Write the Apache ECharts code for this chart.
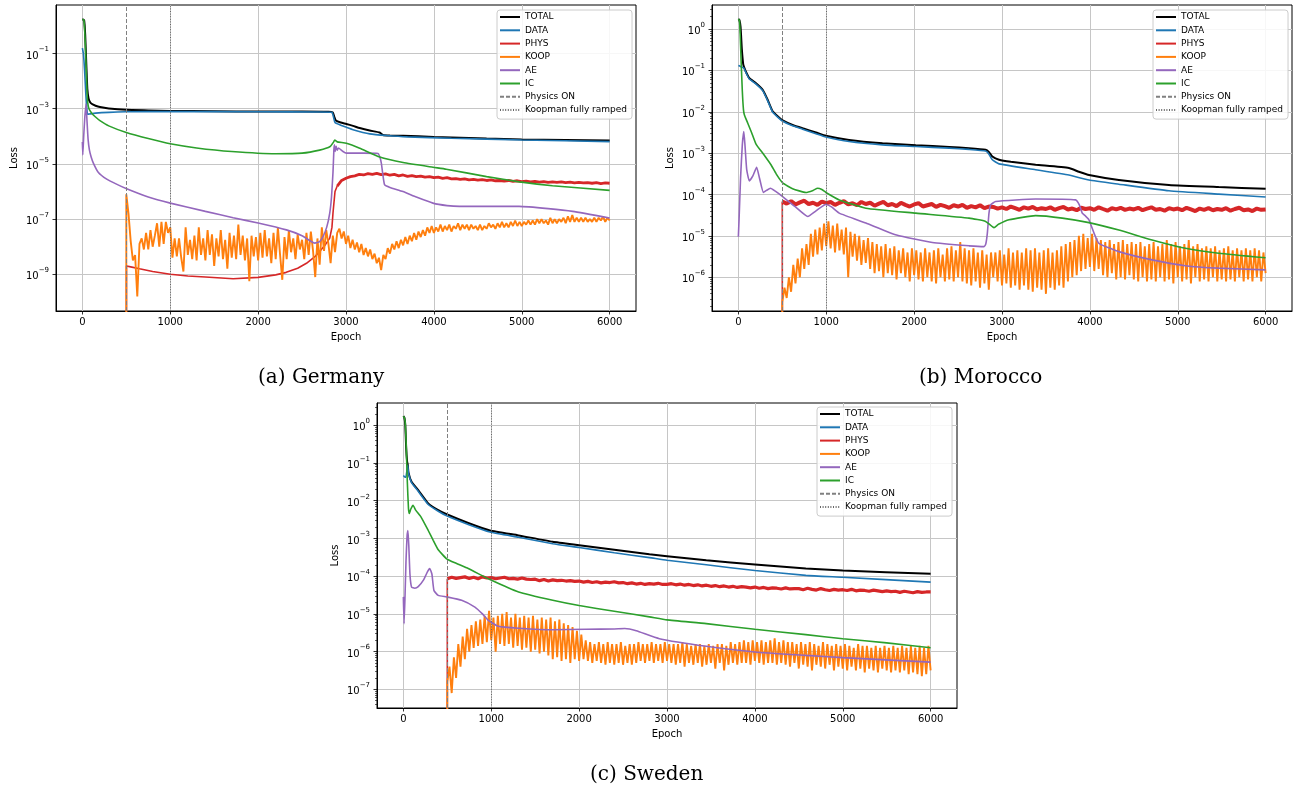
<!DOCTYPE html>
<html><head><meta charset="utf-8">
<script src="https://cdn.jsdelivr.net/npm/echarts@6/dist/echarts.min.js"></script>
<style>html,body{margin:0;padding:0;background:#fff}#c{width:1303px;height:792px}</style>
</head><body><div id="c"></div>
<script>
// ---------------- DATA (all loss values are log10(loss)) ----------------
const EPOCH_TICKS = [0, 1000, 2000, 3000, 4000, 5000, 6000];
const SERIES_NAMES = ['TOTAL', 'DATA', 'PHYS', 'KOOP', 'AE', 'IC'];
const PHASE_NAMES = ['Physics ON', 'Koopman fully ramped'];
const PHASE_EPOCHS = [500, 1000];
const PANEL_TITLES = ['(a) Germany', '(b) Morocco', '(c) Sweden'];
const deDecades = [-9, -7, -5, -3, -1];
const maDecades = [-6, -5, -4, -3, -2, -1, 0];
const seDecades = [-7, -6, -5, -4, -3, -2, -1, 0];

// ---- (a) Germany : [epoch, log10 loss]
const deTotal = [[0,0.25],[20,0.21],[32,-0.3],[45,-1.4],[57,-2.3],[70,-2.62],[85,-2.75],[105,-2.82],[150,-2.89],[200,-2.94],[300,-2.99],[500,-3.04],[750,-3.06],[1000,-3.08],[1500,-3.09],[2000,-3.1],[2500,-3.1],[2800,-3.11],[2850,-3.14],[2868,-3.3],[2885,-3.43],[2940,-3.5],[3004,-3.55],[3080,-3.62],[3156,-3.7],[3270,-3.79],[3383,-3.86],[3420,-3.95],[3500,-3.97],[3650,-3.98],[4000,-4.02],[4600,-4.08],[5000,-4.11],[5500,-4.13],[6000,-4.15]];
const deData = [[0,-0.8],[12,-1.0],[25,-1.6],[40,-2.5],[52,-3.05],[60,-3.2],[80,-3.19],[150,-3.16],[300,-3.13],[500,-3.11],[1000,-3.1],[2000,-3.11],[2700,-3.12],[2840,-3.13],[2858,-3.3],[2875,-3.5],[2928,-3.58],[3004,-3.67],[3080,-3.76],[3270,-3.91],[3460,-3.97],[3700,-4.02],[4200,-4.07],[5000,-4.13],[6000,-4.19]];
const dePhysHead = [[500,-20],[502,-8.7],[550,-8.73],[650,-8.8],[800,-8.9],[1000,-9.0],[1200,-9.06],[1400,-9.1],[1716,-9.16],[2000,-9.11],[2200,-9.02],[2320,-8.93],[2450,-8.78],[2550,-8.6],[2650,-8.35],[2700,-8.17],[2760,-7.95],[2815,-7.69],[2840,-7.3],[2852,-6.78],[2875,-6.0]];
const dePhysTail = [ // every 50 epochs from 2900
-5.8,-5.6,-5.52,-5.46,-5.43,-5.38,-5.4,-5.35,-5.38,-5.34,
-5.39,-5.36,-5.41,-5.38,-5.43,-5.4,-5.45,-5.42,-5.46,-5.44,
-5.48,-5.46,-5.5,-5.48,-5.52,-5.5,-5.54,-5.53,-5.56,-5.54,
-5.58,-5.56,-5.59,-5.57,-5.6,-5.58,-5.61,-5.6,-5.62,-5.6,
-5.63,-5.61,-5.64,-5.62,-5.65,-5.63,-5.66,-5.64,-5.67,-5.65,
-5.67,-5.65,-5.68,-5.66,-5.69,-5.67,-5.69,-5.68,-5.7,-5.68,
-5.71,-5.69,-5.7];
const deKoopHead = [[500,-20]];
const deKoop = [ // every 25 epochs from 500
-6.1,-6.8,-7.8,-8.5,-8.3,-9.8,-7.9,-7.7,-8.1,-7.5,-8.1,-7.4,-8.0,-7.6,-7.15,-8.0,-7.1,
-7.9,-7.1,-7.5,-7.3,-8.4,-7.7,-8.35,-7.7,-8.4,-8.9,-7.3,-8.3,-7.75,-8.45,-7.6,-8.5,
-7.3,-8.3,-7.7,-8.5,-7.4,-8.3,-7.55,-8.7,-7.7,-8.35,-7.4,-8.45,-7.75,-8.8,-7.5,-8.4,
-7.6,-8.45,-7.2,-8.3,-7.6,-8.5,-7.7,-9.25,-7.6,-8.35,-7.65,-8.5,-7.5,-8.4,-7.4,-8.35,
-7.7,-8.6,-7.5,-8.45,-7.3,-8.3,-9.2,-7.65,-8.45,-7.4,-8.2,-7.7,-8.45,-7.55,-8.1,-7.75,
-8.45,-7.5,-8.3,-7.45,-8.15,-9.1,-7.7,-8.65,-7.3,-8.15,-7.4,-7.9,-8.6,-7.6,-8.2,-7.5,
-7.35,-7.7,-7.45,-7.9,-7.6,-8.05,-7.75,-8.1,-7.85,-8.2,-7.9,-8.3,-8.05,-8.35,-8.1,-8.45,
-8.25,-8.6,-8.4,-8.85,-8.3,-8.45,-8.05,-8.25,-7.9,-8.1,-7.8,-8.05,-7.75,-7.95,-7.65,-7.9,
-7.6,-7.8,-7.5,-7.75,-7.45,-7.65,-7.4,-7.6,-7.3,-7.5,-7.25,-7.5,-7.3,-7.45,-7.2,-7.45,
-7.25,-7.4,-7.2,-7.45,-7.25,-7.35,-7.15,-7.4,-7.2,-7.35,-7.2,-7.4,-7.2,-7.35,-7.25,-7.4,
-7.2,-7.4,-7.25,-7.35,-7.15,-7.3,-7.2,-7.35,-7.15,-7.3,-7.1,-7.3,-7.15,-7.3,-7.1,-7.25,
-7.05,-7.25,-7.1,-7.25,-7.1,-7.2,-7.05,-7.2,-7.05,-7.2,-7.0,-7.15,-7.0,-7.15,-7.05,-7.2,
-6.95,-7.15,-7.0,-7.15,-7.0,-7.1,-6.95,-7.15,-6.9,-7.1,-6.85,-7.1,-6.95,-7.1,-6.95,-7.1,
-6.95,-7.1,-7.0,-7.1,-6.95,-7.1,-6.95,-7.05,-6.9,-7.1,-6.95,-7.05];
const deAe = [[0,-4.2],[5,-4.67],[15,-4.0],[28,-3.3],[42,-2.82],[52,-3.4],[65,-4.1],[80,-4.49],[100,-4.75],[125,-4.97],[180,-5.3],[277,-5.55],[400,-5.75],[504,-5.9],[750,-6.2],[1000,-6.42],[1400,-6.72],[1716,-6.95],[2000,-7.14],[2322,-7.39],[2500,-7.6],[2645,-7.87],[2700,-7.82],[2739,-7.63],[2780,-7.3],[2815,-6.78],[2835,-6.2],[2852,-5.3],[2862,-4.5],[2868,-4.31],[2878,-4.55],[2888,-4.36],[2900,-4.5],[2915,-4.42],[2966,-4.55],[3004,-4.61],[3200,-4.61],[3364,-4.62],[3385,-4.75],[3402,-4.97],[3420,-5.4],[3440,-5.76],[3500,-5.85],[3648,-6.0],[3800,-6.2],[3989,-6.42],[4150,-6.51],[4292,-6.54],[4970,-6.54],[5300,-6.62],[5580,-6.72],[6000,-6.96]];
const deIc = [[0,0.25],[18,0.2],[30,-0.4],[42,-1.4],[52,-2.3],[60,-2.75],[75,-3.0],[107,-3.16],[150,-3.3],[200,-3.43],[300,-3.62],[500,-3.86],[750,-4.08],[1000,-4.27],[1300,-4.42],[1700,-4.55],[2200,-4.63],[2500,-4.61],[2700,-4.5],[2820,-4.37],[2860,-4.2],[2872,-4.13],[2900,-4.2],[3004,-4.25],[3156,-4.43],[3383,-4.75],[3650,-4.95],[3990,-5.12],[4140,-5.19],[4600,-5.46],[4975,-5.65],[5350,-5.79],[6000,-5.96]];

// ---- (b) Morocco
const maTotal = [[0,0.24],[12,0.22],[25,0.05],[40,-0.5],[55,-0.85],[65,-0.92],[90,-1.05],[125,-1.19],[201,-1.31],[277,-1.47],[333,-1.71],[390,-1.99],[447,-2.11],[504,-2.21],[617,-2.32],[731,-2.4],[883,-2.5],[996,-2.58],[1260,-2.68],[1640,-2.76],[2020,-2.81],[2400,-2.85],[2625,-2.88],[2814,-2.92],[2850,-2.97],[2890,-3.08],[2966,-3.16],[3100,-3.21],[3383,-3.28],[3761,-3.36],[3875,-3.45],[3990,-3.53],[4330,-3.65],[4900,-3.77],[5466,-3.82],[6000,-3.86]];
const maData = [[0,-0.88],[20,-0.9],[40,-0.92],[61,-0.94],[90,-1.07],[125,-1.21],[201,-1.33],[277,-1.49],[333,-1.73],[390,-2.01],[447,-2.13],[504,-2.23],[617,-2.34],[731,-2.42],[883,-2.53],[996,-2.61],[1260,-2.72],[1640,-2.8],[2020,-2.84],[2400,-2.88],[2625,-2.91],[2814,-2.95],[2850,-3.02],[2890,-3.16],[2966,-3.26],[3383,-3.4],[3761,-3.53],[3990,-3.65],[4330,-3.75],[4900,-3.91],[5466,-3.99],[6000,-4.06]];
const maPhysHead = [[500,-20]];
const maPhys = [ // every 50 epochs from 500
-4.17,-4.22,-4.16,-4.24,-4.19,-4.15,-4.23,-4.2,-4.25,-4.17,
-4.21,-4.18,-4.25,-4.2,-4.16,-4.24,-4.21,-4.26,-4.18,-4.23,
-4.2,-4.27,-4.22,-4.18,-4.26,-4.23,-4.28,-4.2,-4.25,-4.29,
-4.24,-4.21,-4.29,-4.26,-4.23,-4.3,-4.25,-4.28,-4.32,-4.26,
-4.29,-4.25,-4.32,-4.28,-4.31,-4.26,-4.33,-4.29,-4.3,-4.34,
-4.31,-4.35,-4.29,-4.33,-4.37,-4.31,-4.34,-4.3,-4.36,-4.33,
-4.35,-4.31,-4.37,-4.33,-4.3,-4.36,-4.34,-4.38,-4.32,-4.35,
-4.33,-4.37,-4.31,-4.35,-4.39,-4.33,-4.36,-4.32,-4.37,-4.34,
-4.36,-4.32,-4.38,-4.34,-4.31,-4.37,-4.35,-4.39,-4.33,-4.36,
-4.34,-4.38,-4.32,-4.36,-4.4,-4.34,-4.37,-4.33,-4.38,-4.35,
-4.37,-4.33,-4.39,-4.35,-4.32,-4.38,-4.36,-4.4,-4.34,-4.37,
-4.36];
const maKoopHead = [[500,-20]];
const maKoop = [ // every 25 epochs from 500
-6.6,-6.25,-6.5,-6.0,-6.35,-5.7,-6.15,-5.55,-6.0,-5.3,-5.8,-5.2,-5.7,-4.95,-5.5,-4.85,-5.45,
-4.8,-5.35,-4.7,-5.25,-4.65,-5.3,-4.75,-5.4,-4.7,-5.35,-4.85,-5.45,-4.8,-6.0,-4.9,-5.5,
-4.95,-5.6,-5.0,-5.7,-5.1,-5.65,-5.05,-5.8,-5.15,-5.9,-5.2,-5.85,-5.25,-6.0,-5.2,-5.9,
-5.3,-5.95,-5.25,-6.05,-5.35,-5.9,-5.3,-6.0,-5.4,-6.1,-5.3,-5.95,-5.35,-6.05,-5.4,-6.1,
-5.3,-6.0,-5.4,-6.1,-5.35,-6.15,-5.3,-6.0,-5.45,-6.1,-5.3,-6.05,-5.25,-6.1,-5.35,-6.0,
-5.15,-6.1,-5.3,-6.15,-5.35,-6.2,-5.3,-6.1,-5.4,-6.25,-5.35,-6.15,-5.45,-6.3,-5.4,-6.0,
-5.4,-6.1,-5.35,-6.2,-5.45,-6.15,-5.3,-6.25,-5.4,-6.2,-5.35,-6.3,-5.4,-6.2,-5.3,-6.3,
-5.35,-6.35,-5.3,-6.25,-5.4,-6.3,-5.35,-6.4,-5.3,-6.25,-5.4,-6.3,-5.35,-6.2,-5.25,-6.25,
-5.2,-6.1,-5.15,-6.0,-5.1,-5.95,-5.0,-5.85,-4.95,-5.8,-5.05,-5.75,-4.95,-5.85,-5.05,-5.8,
-5.1,-5.95,-5.15,-6.0,-5.1,-5.9,-5.2,-6.05,-5.15,-6.0,-5.1,-6.05,-5.2,-5.95,-5.15,-6.05,
-5.2,-6.1,-5.15,-6.0,-5.25,-6.1,-5.2,-6.05,-5.15,-6.1,-5.25,-6.0,-5.2,-6.1,-5.1,-6.05,
-5.2,-6.15,-5.15,-6.0,-5.25,-6.1,-5.2,-6.05,-5.1,-6.15,-5.25,-6.0,-5.2,-6.1,-5.3,-6.05,
-5.25,-6.1,-5.3,-6.0,-5.25,-6.1,-5.35,-6.05,-5.3,-6.1,-5.25,-6.05,-5.35,-6.1,-5.3,-6.0,
-5.35,-6.1,-5.3,-6.05,-5.35,-6.1,-5.3,-6.0,-5.35,-6.1,-5.4,-5.9];
const maAe = [[0,-5.02],[8,-4.6],[25,-3.6],[45,-2.8],[62,-2.48],[75,-2.8],[95,-3.4],[125,-3.67],[165,-3.55],[208,-3.34],[240,-3.6],[285,-3.95],[320,-3.9],[365,-3.85],[420,-3.92],[504,-4.05],[650,-4.3],[790,-4.53],[880,-4.4],[996,-4.24],[1060,-4.3],[1148,-4.45],[1451,-4.69],[1800,-4.98],[2208,-5.16],[2625,-5.24],[2795,-5.26],[2815,-5.2],[2833,-4.94],[2852,-4.45],[2871,-4.25],[2928,-4.17],[3383,-4.11],[3837,-4.13],[3880,-4.25],[3913,-4.45],[3950,-4.52],[3989,-4.61],[4050,-4.95],[4102,-5.18],[4330,-5.38],[4708,-5.58],[5087,-5.72],[5466,-5.78],[6000,-5.82]];
const maIc = [[0,0.24],[12,0.2],[20,-0.09],[30,-0.7],[45,-1.5],[58,-1.95],[68,-2.07],[106,-2.27],[150,-2.5],[201,-2.78],[295,-3.05],[371,-3.28],[430,-3.5],[504,-3.72],[617,-3.86],[769,-3.95],[850,-3.9],[902,-3.85],[950,-3.88],[996,-3.95],[1148,-4.13],[1451,-4.33],[2019,-4.45],[2625,-4.57],[2814,-4.65],[2909,-4.8],[2960,-4.72],[3080,-4.61],[3383,-4.51],[3686,-4.57],[3989,-4.68],[4330,-4.86],[4708,-5.1],[5087,-5.3],[5466,-5.42],[6000,-5.53]];

// ---- (c) Sweden
const seTotal = [[0,0.24],[12,0.2],[22,0.0],[32,-0.6],[42,-0.95],[50,-1.05],[58,-1.25],[93,-1.5],[169,-1.72],[283,-2.07],[397,-2.25],[492,-2.36],[738,-2.59],[985,-2.79],[1311,-2.92],[1700,-3.09],[2000,-3.18],[2400,-3.3],[2800,-3.42],[3000,-3.47],[3447,-3.58],[4000,-3.69],[4580,-3.8],[5000,-3.85],[6000,-3.94]];
const seData = [[0,-1.33],[15,-1.37],[28,-1.38],[38,-1.25],[50,-1.06],[58,-1.27],[93,-1.52],[169,-1.75],[283,-2.1],[397,-2.28],[492,-2.4],[738,-2.63],[985,-2.83],[1311,-2.97],[1700,-3.14],[2000,-3.24],[2400,-3.38],[2800,-3.51],[3000,-3.58],[3447,-3.7],[4000,-3.85],[4580,-3.98],[5000,-4.03],[6000,-4.16]];
const sePhysHead = [[500,-20]];
const sePhys = [ // every 50 epochs from 500
-4.07,-4.03,-4.06,-4.04,-4.02,-4.06,-4.03,-4.07,-4.02,-4.05,
-4.04,-4.07,-4.05,-4.03,-4.07,-4.06,-4.08,-4.05,-4.08,-4.09,
-4.08,-4.12,-4.09,-4.13,-4.1,-4.12,-4.11,-4.13,-4.12,-4.14,
-4.13,-4.16,-4.14,-4.17,-4.15,-4.18,-4.16,-4.17,-4.15,-4.18,
-4.17,-4.2,-4.18,-4.21,-4.19,-4.22,-4.2,-4.21,-4.19,-4.22,
-4.22,-4.2,-4.23,-4.21,-4.24,-4.22,-4.25,-4.23,-4.26,-4.24,
-4.27,-4.25,-4.28,-4.26,-4.29,-4.27,-4.3,-4.28,-4.29,-4.31,
-4.29,-4.32,-4.3,-4.33,-4.31,-4.32,-4.34,-4.31,-4.34,-4.33,
-4.33,-4.36,-4.32,-4.35,-4.37,-4.33,-4.36,-4.38,-4.35,-4.37,
-4.36,-4.38,-4.35,-4.39,-4.37,-4.38,-4.4,-4.37,-4.39,-4.41,
-4.39,-4.41,-4.4,-4.43,-4.4,-4.42,-4.44,-4.41,-4.43,-4.42,
-4.42];
const seKoopHead = [[500,-20]];
const seKoop = [ // every 25 epochs from 500
-6.8,-6.4,-7.1,-6.15,-6.7,-5.8,-6.4,-5.6,-6.2,-5.4,-6.0,-5.3,-5.9,-5.2,-5.85,-5.15,-5.8,
-5.05,-5.75,-4.92,-5.7,-5.1,-6.0,-5.05,-5.8,-5.0,-5.85,-4.95,-5.8,-5.1,-5.9,-5.0,-5.85,
-5.1,-5.95,-5.05,-5.9,-5.1,-6.0,-5.05,-5.95,-5.15,-6.05,-5.1,-6.0,-5.15,-6.1,-5.1,-6.2,
-5.2,-6.15,-5.15,-6.25,-5.25,-6.2,-5.3,-6.3,-5.35,-6.2,-5.45,-6.25,-5.55,-6.2,-5.7,-6.25,
-5.75,-6.3,-5.8,-6.25,-5.75,-6.3,-5.8,-6.35,-5.75,-6.3,-5.8,-6.35,-5.8,-6.3,-5.75,-6.35,
-5.85,-6.3,-5.8,-6.35,-5.8,-6.3,-5.75,-6.25,-5.8,-6.3,-5.8,-6.25,-5.75,-6.3,-5.8,-6.25,
-5.8,-6.3,-5.75,-6.25,-5.8,-6.3,-5.8,-6.35,-5.8,-6.3,-5.75,-6.4,-5.8,-6.3,-5.85,-6.35,
-5.8,-6.3,-5.8,-6.4,-5.85,-6.35,-5.8,-6.3,-5.85,-6.45,-5.8,-6.3,-5.8,-6.5,-5.85,-6.35,
-5.75,-6.3,-5.8,-6.35,-5.75,-6.3,-5.7,-6.3,-5.75,-6.35,-5.7,-6.25,-5.75,-6.3,-5.7,-6.35,
-5.75,-6.3,-5.7,-6.3,-5.65,-6.35,-5.75,-6.3,-5.7,-6.35,-5.75,-6.4,-5.75,-6.3,-5.8,-6.45,
-5.75,-6.35,-5.8,-6.4,-5.75,-6.5,-5.8,-6.35,-5.85,-6.4,-5.75,-6.45,-5.8,-6.35,-5.85,-6.5,
-5.8,-6.4,-5.85,-6.45,-5.8,-6.5,-5.85,-6.4,-5.9,-6.5,-5.8,-6.45,-5.85,-6.55,-5.85,-6.45,
-5.9,-6.5,-5.85,-6.55,-5.9,-6.45,-5.85,-6.5,-5.9,-6.55,-5.85,-6.5,-5.9,-6.55,-5.85,-6.5,
-5.9,-6.6,-5.85,-6.55,-5.9,-6.6,-5.85,-6.65,-5.9,-6.6,-5.85,-6.5];
const seAe = [[0,-4.55],[8,-5.26],[18,-4.6],[30,-3.6],[42,-2.95],[52,-2.79],[62,-3.2],[75,-3.95],[93,-4.29],[130,-4.32],[169,-4.28],[230,-4.1],[275,-3.88],[300,-3.8],[325,-3.95],[348,-4.38],[397,-4.51],[492,-4.55],[663,-4.64],[814,-4.82],[900,-5.0],[966,-5.17],[1080,-5.33],[1311,-5.38],[1700,-5.42],[2080,-5.41],[2400,-5.4],[2520,-5.39],[2650,-5.45],[2913,-5.66],[3447,-5.86],[4000,-6.01],[4580,-6.1],[5000,-6.16],[6000,-6.28]];
const seIc = [[0,0.24],[10,0.2],[20,0.1],[32,-0.5],[45,-1.5],[58,-2.2],[68,-2.34],[85,-2.22],[110,-2.12],[140,-2.25],[200,-2.43],[283,-2.79],[340,-3.05],[397,-3.3],[492,-3.54],[600,-3.66],[738,-3.8],[985,-4.09],[1311,-4.42],[1700,-4.64],[2000,-4.78],[2400,-4.93],[2800,-5.08],[3000,-5.16],[3447,-5.26],[4000,-5.41],[4580,-5.55],[5000,-5.66],[5500,-5.77],[6000,-5.9]];

// ---------------- BUILD ----------------
function pts(head, vals, start, step) {
  const out = head ? head.slice() : [];
  if (vals) vals.forEach((v, i) => out.push([start + i * step, v]));
  return out;
}
const COLORS = {TOTAL:'#000000', DATA:'#1f77b4', PHYS:'#d62728', KOOP:'#ff7f0e', AE:'#9467bd', IC:'#2ca02c'};
const WIDTHS = {TOTAL:2, DATA:1.6, PHYS:1.6, KOOP:1.9, AE:1.6, IC:1.6};
const SMOOTH = {TOTAL:true, DATA:true, PHYS:false, KOOP:false, AE:true, IC:true};

const panels = [
  {grid:{left:56, top:5, width:580, height:306}, yMin:-10.33, yMax:0.76, decades:deDecades, minor:false, physWidth:2.8,
   legend:{left:497, top:10}, title:{left:258, top:368},
   physHead:dePhysHead, physTail:pts(null, dePhysTail, 2900, 50),
   data:{TOTAL:pts(deTotal), DATA:pts(deData), KOOP:pts(deKoopHead, deKoop, 500, 25), AE:pts(deAe), IC:pts(deIc)}},
  {grid:{left:712, top:5, width:580, height:306}, yMin:-6.815, yMax:0.58, decades:maDecades, minor:true, physWidth:4,
   legend:{left:1153, top:10}, title:{left:919, top:368},
   physHead:maPhysHead, physTail:pts(null, maPhys, 500, 50),
   data:{TOTAL:pts(maTotal), DATA:pts(maData), KOOP:pts(maKoopHead, maKoop, 500, 25), AE:pts(maAe), IC:pts(maIc)}},
  {grid:{left:377, top:403, width:580, height:305}, yMin:-7.496, yMax:0.59, decades:seDecades, minor:true, physWidth:3.2,
   legend:{left:817, top:407}, title:{left:590, top:765},
   physHead:sePhysHead, physTail:pts(null, sePhys, 500, 50),
   data:{TOTAL:pts(seTotal), DATA:pts(seData), KOOP:pts(seKoopHead, seKoop, 500, 25), AE:pts(seAe), IC:pts(seIc)}}
];

const FONT = 'DejaVu Sans';
const grids = [], xAxes = [], yAxes = [], series = [], legends = [], titles = [];
const minorAxes = [];
function lineSeries(name, i, data, width, smooth) {
  return {type:'line', name, xAxisIndex:i, yAxisIndex:i, data, showSymbol:false, symbol:'none',
    smooth: smooth ? 0.15 : false, clip:true, animation:false, silent:true,
    lineStyle:{color:COLORS[name], width}, itemStyle:{color:COLORS[name]}};
}
panels.forEach((p, i) => {
  grids.push(Object.assign({show:true, borderColor:'#000', borderWidth:1, backgroundColor:'#fff', containLabel:false}, p.grid));
  xAxes.push({type:'value', gridIndex:i, min:-300, max:6300, name:'Epoch', nameLocation:'middle', nameGap:21,
    nameTextStyle:{fontSize:10, color:'#000', fontFamily:FONT},
    axisLine:{show:true, onZero:false, lineStyle:{color:'#000', width:1}},
    axisTick:{show:true, length:3.5, lineStyle:{color:'#000', width:0.8}, customValues:EPOCH_TICKS},
    axisLabel:{show:true, margin:6, fontSize:10, color:'#000', fontFamily:FONT, customValues:EPOCH_TICKS,
      formatter: v => String(Math.round(v))},
    splitLine:{show:true, lineStyle:{color:'#c6c6c6', width:1}}});
  yAxes.push({type:'value', gridIndex:i, min:p.yMin, max:p.yMax, position:'left', name:'Loss', nameLocation:'middle', nameGap:37,
    nameTextStyle:{fontSize:10, color:'#000', fontFamily:FONT},
    axisLine:{show:true, onZero:false, lineStyle:{color:'#000', width:1}},
    axisTick:{show:true, length:3.5, lineStyle:{color:'#000', width:0.8}, customValues:p.decades},
    axisLabel:{show:true, margin:7, customValues:p.decades,
      formatter: v => { const n = Math.round(v); return '{b|10}{s|' + (n < 0 ? '\u2212' : '') + Math.abs(n) + '}'; },
      rich:{b:{fontSize:10, fontFamily:FONT, color:'#000', lineHeight:15, verticalAlign:'bottom'},
            s:{fontSize:7, fontFamily:FONT, color:'#000', lineHeight:15, verticalAlign:'top'}}},
    splitLine:{show:true, lineStyle:{color:'#c6c6c6', width:1}}});
  if (p.minor) {
    const mv = [];
    for (let n = Math.floor(p.yMin); n <= Math.ceil(p.yMax); n++)
      for (let k = 2; k <= 9; k++) { const v = n + Math.log10(k); if (v > p.yMin && v < p.yMax) mv.push(v); }
    minorAxes.push({type:'value', gridIndex:i, min:p.yMin, max:p.yMax, position:'left',
      axisLine:{show:false, onZero:false}, axisLabel:{show:false}, splitLine:{show:false},
      axisTick:{show:true, length:2, lineStyle:{color:'#000', width:0.6}, customValues:mv}});
  }
  SERIES_NAMES.forEach(name => {
    if (name === 'PHYS') {
      // thin start segment (incl. the jump at epoch 500), then the noisy band drawn thicker
      series.push(lineSeries(name, i, p.physHead.concat([p.physTail[0]]), WIDTHS.PHYS, false));
      series.push(lineSeries(name, i, p.physTail, p.physWidth, false));
    } else {
      series.push(lineSeries(name, i, p.data[name], WIDTHS[name], SMOOTH[name]));
    }
  });
  const phaseStyles = [{color:'#808080', type:[4,2], width:1}, {color:'#666666', type:[1,1.6], width:1}];
  PHASE_NAMES.forEach((name, j) => {
    series.push({type:'line', name, xAxisIndex:i, yAxisIndex:i, data:[], showSymbol:false, symbol:'none', animation:false,
      lineStyle:phaseStyles[j], itemStyle:{color:phaseStyles[j].color},
      markLine:{silent:true, symbol:['none','none'], animation:false, label:{show:false},
        lineStyle:phaseStyles[j], data:[{xAxis:PHASE_EPOCHS[j]}]}});
  });
  legends.push({orient:'vertical', left:p.legend.left, top:p.legend.top, itemWidth:20, itemHeight:10, itemGap:3.3,
    padding:[2,5,4,2], backgroundColor:'rgba(255,255,255,0.85)', borderColor:'#cccccc', borderWidth:1, borderRadius:3,
    selectedMode:false, itemStyle:{opacity:0}, lineStyle:{width:2},
    textStyle:{fontSize:9, color:'#000', fontFamily:FONT, lineHeight:10},
    data: SERIES_NAMES.concat(PHASE_NAMES)});
  titles.push({text:PANEL_TITLES[i], left:p.title.left, top:p.title.top, padding:0,
    textStyle:{fontFamily:'DejaVu Serif', fontSize:20, fontWeight:'normal', color:'#000'}});
});

const chart = echarts.init(document.getElementById('c'), null, {renderer:'canvas'});
chart.setOption({
  animation:false, backgroundColor:'#fff', textStyle:{fontFamily:FONT},
  title:titles, legend:legends, grid:grids, xAxis:xAxes, yAxis:yAxes.concat(minorAxes), series
});
</script></body></html>
